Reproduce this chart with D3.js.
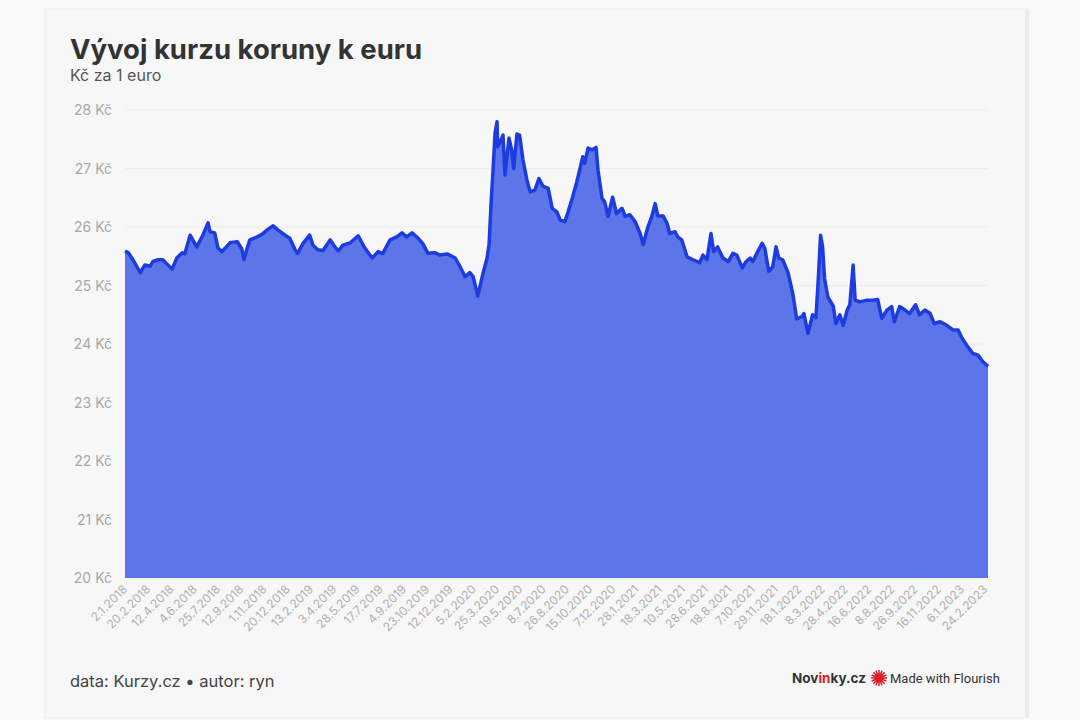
<!DOCTYPE html>
<html>
<head>
<meta charset="utf-8">
<script src="https://cdn.jsdelivr.net/npm/d3@7"></script>
<style>
  body { margin:0; background:#fafafa; font-family:"Inter","Noto Sans",sans-serif; }
</style>
</head>
<body>
<script>
// trading-day index (one category per trading day, label every 35th)
var tradingDay = [0,5,12,23,30,38,42,50,57,63,71,78,86,90,98,102,108,116,125,128,135,140,146,151,158,169,176,179,184,188,
  199,208,215,223,230,241,248,256,260,268,278,283,290,298,309,316,321,328,339,351,361,372,381,388,399,409,417,424,432,441,
  448,456,467,474,485,497,504,512,519,524,531,539,545,548,551,554,557,560,561,566,569,572,578,582,585,590,594,599,605,610,
  617,623,629,637,643,650,655,662,667,674,680,685,689,692,697,703,709,712,718,722,727,734,740,748,753,760,768,775,780,787,
  793,798,802,810,816,820,828,832,838,846,855,865,870,876,882,886,892,900,908,915,921,929,935,941,945,951,959,963,969,975,
  980,984,990,998,1005,1011,1019,1022,1028,1035,1040,1043,1047,1050,1053,1058,1066,1070,1076,1081,1087,1091,1096,1099,1106,1117,
  1126,1133,1139,1147,1154,1158,1166,1174,1181,1190,1196,1204,1212,1218,1227,1237,1246,1254,1260,1267,1276,1284,1291,1299];
var kurz = [25.59,25.56,25.44,25.22,25.35,25.33,25.41,25.44,25.44,25.37,25.28,25.47,25.56,25.54,25.86,25.78,25.66,25.83,26.07,25.92,
  25.90,25.64,25.58,25.64,25.73,25.75,25.62,25.44,25.64,25.78,25.83,25.89,25.96,26.02,25.95,25.86,25.81,25.61,25.55,25.72,
  25.86,25.69,25.61,25.60,25.78,25.66,25.59,25.69,25.73,25.85,25.64,25.47,25.58,25.55,25.78,25.83,25.90,25.83,25.90,25.81,
  25.72,25.55,25.56,25.52,25.54,25.47,25.33,25.15,25.22,25.15,24.82,25.21,25.47,25.70,26.40,26.97,27.60,27.80,27.37,27.49,
  27.57,26.89,27.52,27.32,27.00,27.59,27.57,27.15,26.80,26.60,26.63,26.83,26.70,26.66,26.32,26.26,26.12,26.09,26.26,26.52,
  26.77,27.00,27.20,27.09,27.35,27.32,27.36,26.97,26.49,26.43,26.18,26.51,26.23,26.32,26.18,26.21,26.09,25.90,25.70,26.00,
  26.18,26.40,26.19,26.19,26.06,25.89,25.92,25.83,25.78,25.49,25.44,25.39,25.52,25.44,25.89,25.58,25.66,25.47,25.41,25.55,
  25.52,25.30,25.41,25.47,25.41,25.55,25.72,25.64,25.24,25.32,25.66,25.47,25.44,25.22,24.87,24.43,24.47,24.52,24.18,24.50,
  24.45,25.00,25.86,25.66,25.12,24.80,24.65,24.35,24.50,24.32,24.58,24.67,25.35,24.75,24.72,24.75,24.75,24.76,24.44,24.58,
  24.64,24.38,24.64,24.58,24.52,24.67,24.50,24.58,24.52,24.35,24.38,24.32,24.24,24.24,24.10,23.98,23.84,23.81,23.70,23.62];
var dateLabels = ["2.1.2018","20.2.2018","12.4.2018","4.6.2018","25.7.2018","12.9.2018","1.11.2018","20.12.2018",
  "13.2.2019","3.4.2019","28.5.2019","17.7.2019","4.9.2019","23.10.2019","12.12.2019","5.2.2020","25.3.2020",
  "19.5.2020","8.7.2020","26.8.2020","15.10.2020","7.12.2020","28.1.2021","18.3.2021","10.5.2021","28.6.2021",
  "18.8.2021","7.10.2021","29.11.2021","18.1.2022","8.3.2022","28.4.2022","16.6.2022","8.8.2022","26.9.2022",
  "16.11.2022","6.1.2023","24.2.2023"];
var yTicks = [20,21,22,23,24,25,26,27,28];
var labelStep = 35;

var data = tradingDay.map(function(d,i){ return {day:d, value:kurz[i]}; });

var width = 1080, height = 720;
var margins = {top:110, bottom:142, left:125, right:92};

var svg = d3.select("body").append("svg")
  .attr("width",width)
  .attr("height",height);

// card
svg.append("rect").attr("x",45).attr("y",9).attr("width",984).attr("height",709)
  .attr("fill","#f7f7f7").attr("stroke","#ececec").attr("stroke-width",1);
svg.append("rect").attr("x",1025).attr("y",10).attr("width",4).attr("height",708).attr("fill","#ececec");

var xScale = d3.scaleLinear()
  .domain([0,1299])
  .range([margins.left, width-margins.right]);
var yScale = d3.scaleLinear()
  .domain([20,28])
  .range([height-margins.bottom, margins.top]);

// gridlines
svg.append("g").selectAll("line").data(yTicks).enter().append("line")
  .attr("x1",margins.left).attr("x2",width-margins.right)
  .attr("y1",function(d){return yScale(d)}).attr("y2",function(d){return yScale(d)})
  .attr("stroke","#ededed").attr("stroke-width",1);

// y labels
svg.append("g").selectAll("text").data(yTicks).enter().append("text")
  .attr("x",112).attr("y",function(d){return yScale(d)+5})
  .attr("text-anchor","end")
  .attr("fill","#a8a8a8").style("font-size","14px")
  .text(function(d){return d+" Kč"});

var area = d3.area()
  .x(function(d){return xScale(d.day)})
  .y0(yScale(20))
  .y1(function(d){return yScale(d.value)});
var line = d3.line()
  .x(function(d){return xScale(d.day)})
  .y(function(d){return yScale(d.value)});

svg.append("path").datum(data).attr("d",area).attr("fill","#5c75e8");
svg.append("path").datum(data).attr("d",line)
  .attr("fill","none").attr("stroke","#1c3be0").attr("stroke-width",3.5)
  .attr("stroke-linejoin","round");

// x labels
svg.append("g").selectAll("text").data(dateLabels).enter().append("text")
  .attr("transform",function(d,i){
    return "translate("+(xScale(i*labelStep)+3)+","+(yScale(20)+12)+") rotate(-45)";
  })
  .attr("text-anchor","end")
  .attr("fill","#b0b0b0").style("font-size","12px")
  .text(function(d){return d});

// title
svg.append("text").attr("x",70).attr("y",59)
  .attr("fill","#333").style("font-size","27.5px").style("font-weight","700")
  .text("Vývoj kurzu koruny k euru");
svg.append("text").attr("x",70).attr("y",81)
  .attr("fill","#555").style("font-size","16px")
  .text("Kč za 1 euro");

// footer
svg.append("text").attr("x",70).attr("y",687)
  .attr("fill","#444").style("font-size","16.5px")
  .text("data: Kurzy.cz • autor: ryn");

var brand = svg.append("text").attr("x",792).attr("y",683)
  .attr("fill","#333").style("font-size","13.5px").style("font-weight","700");
brand.append("tspan").text("Nov");
brand.append("tspan").attr("fill","#d61f26").text("in");
brand.append("tspan").text("ky.cz");

var logo = svg.append("g").attr("transform","translate(879,678)");
logo.selectAll("line").data(d3.range(16)).enter().append("line")
  .attr("x1",0).attr("y1",0)
  .attr("x2",function(d){return 8*Math.cos(d*Math.PI/8)})
  .attr("y2",function(d){return 8*Math.sin(d*Math.PI/8)})
  .attr("stroke","#d61f26").attr("stroke-width",1.5);
logo.append("circle").attr("r",4.5).attr("fill","#d61f26");

svg.append("text").attr("x",890).attr("y",683)
  .attr("fill","#333").style("font-size","13px")
  .style("font-family","Roboto,sans-serif")
  .text("Made with Flourish");
</script>
</body>
</html>
